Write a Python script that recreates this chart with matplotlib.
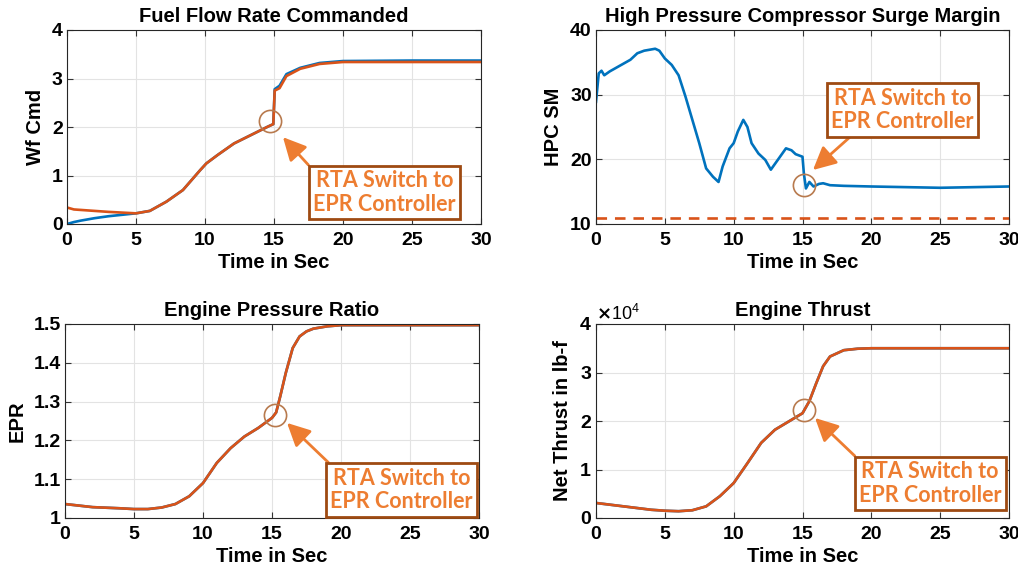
import numpy as np
import matplotlib
matplotlib.use("Agg")
import matplotlib.pyplot as plt
from matplotlib.ticker import ScalarFormatter

plt.rcParams['font.family'] = ['Liberation Sans', 'DejaVu Sans']
plt.rcParams['font.weight'] = 'bold'
plt.rcParams['axes.titleweight'] = 'bold'
plt.rcParams['axes.labelweight'] = 'bold'

BLUE = '#0072BD'
ORANGE = '#D95319'
NOTE = '#ED7D31'
NOTE_EDGE = '#9E4A12'
RING = '#B87A4E'

# ---- fuel flow commanded
t_wf = [0, 0.5, 1, 2, 3, 4, 5, 6, 7.2, 8.4, 9.65, 10.1, 10.9, 12.1, 13.3, 14.5, 14.95,
        15.05, 15.4, 15.9, 16.9, 18.3, 20, 25, 30]
wf_blue = [0.0, 0.04, 0.07, 0.12, 0.16, 0.19, 0.22, 0.27, 0.46, 0.70, 1.11, 1.25, 1.42, 1.66, 1.83, 2.0, 2.06,
           2.78, 2.85, 3.09, 3.22, 3.32, 3.36, 3.37, 3.37]
wf_orange = [0.34, 0.30, 0.29, 0.27, 0.25, 0.235, 0.22, 0.27, 0.46, 0.70, 1.11, 1.25, 1.42, 1.66, 1.83, 2.0, 2.06,
             2.75, 2.80, 3.05, 3.20, 3.30, 3.34, 3.34, 3.34]

# ---- HPC surge margin
t_sm = [0, 0.2, 0.4, 0.6, 1, 2, 2.5, 3, 3.5, 4.3, 4.6, 5, 5.5, 6, 6.5, 7, 7.5, 8, 8.5, 8.9,
        9.2, 9.7, 10, 10.3, 10.7, 11, 11.3, 11.8, 12.3, 12.7, 13.2, 13.8, 14.2, 14.5, 15,
        15.1, 15.25, 15.5, 15.8, 16.2, 16.5, 17, 18, 20, 25, 30]
sm = [28.9, 33.3, 33.7, 33.0, 33.6, 34.8, 35.4, 36.4, 36.8, 37.1, 36.8, 35.6, 34.6, 33.0, 29.7,
      26.1, 22.5, 18.6, 17.3, 16.5, 18.9, 21.7, 22.5, 24.3, 26.1, 25.0, 22.5, 20.9, 19.9, 18.4,
      19.9, 21.7, 21.4, 20.8, 20.4, 17.8, 15.5, 16.5, 15.8, 16.2, 16.3, 16.0, 15.9, 15.8, 15.6, 15.8]
sm_limit = 11

# ---- engine pressure ratio
t_epr = [0, 2, 4, 5, 6, 7, 8, 9, 10, 11, 12, 13, 14, 15, 15.3, 15.6, 16, 16.5, 17, 17.5, 18, 19, 20, 30]
epr = [1.036, 1.028, 1.025, 1.023, 1.023, 1.027, 1.036, 1.056, 1.09, 1.142, 1.18, 1.21, 1.232, 1.258,
       1.272, 1.314, 1.374, 1.438, 1.468, 1.481, 1.488, 1.494, 1.497, 1.497]

# ---- thrust
t_fn = [0, 2, 4, 5, 6, 7, 8, 9, 10, 11, 12, 13, 14, 15, 15.5, 16, 16.5, 17, 18, 19, 20, 30]
fn = [3100, 2400, 1700, 1500, 1400, 1600, 2400, 4500, 7200, 11300, 15500, 18200, 19900, 21600,
      24100, 27800, 31300, 33300, 34600, 34900, 35000, 35000]

fig = plt.figure(figsize=(10.18, 5.71), dpi=100)
W, H = 1018, 571


def make_ax(x0, x1, ytop, ybot):
    return fig.add_axes([x0 / W, 1 - ybot / H, (x1 - x0) / W, (ybot - ytop) / H])


def style(ax, title, ylabel, ylim, yticks):
    ax.set_xlim(0, 30)
    ax.set_xticks([0, 5, 10, 15, 20, 25, 30])
    ax.set_ylim(*ylim)
    ax.set_yticks(yticks)
    ax.grid(True, color='#e3e3e3', lw=0.8)
    ax.set_axisbelow(True)
    ax.tick_params(direction='in', top=True, right=True, labelsize=14, length=4,
                   color='#333333')
    ax.tick_params(axis='x', pad=6)
    ax.tick_params(axis='y', pad=3)
    for s in ax.spines.values():
        s.set_color('#262626')
        s.set_linewidth(0.8)
    ax.set_title(title, fontsize=14.5, pad=6)
    ax.set_xlabel('Time in Sec', fontsize=14.5, labelpad=3)
    ax.set_ylabel(ylabel, fontsize=14.5, labelpad=5)


def note(ax, ring, tip, box, relpos):
    ax.plot(*ring, 'o', ms=16, mfc='none', mec=RING, mew=1.2, zorder=5)
    ax.annotate('RTA Switch to\nEPR Controller', xy=tip, xycoords='data',
                xytext=box, textcoords='axes fraction', ha='center', va='center',
                fontsize=15.5, family=['Lato', 'DejaVu Sans'], fontweight='bold',
                color=NOTE, linespacing=1.15,
                bbox=dict(boxstyle='square,pad=0.2', fc='white', ec=NOTE_EDGE, lw=2),
                arrowprops=dict(arrowstyle='-|>,head_length=0.9,head_width=0.45',
                                color=NOTE, lw=2, relpos=relpos, shrinkA=0, shrinkB=0),
                zorder=6)


ax1 = make_ax(67, 481, 30, 224)
ax1.plot(t_wf, wf_blue, color=BLUE, lw=1.9)
ax1.plot(t_wf, wf_orange, color=ORANGE, lw=1.9)
style(ax1, 'Fuel Flow Rate Commanded', 'Wf Cmd', (0, 4), [0, 1, 2, 3, 4])
note(ax1, (14.7, 2.12), (15.65, 1.79), (0.767, 0.162), (0.0, 1.0))

ax2 = make_ax(596, 1009, 30, 224)
ax2.plot(t_sm, sm, color=BLUE, lw=1.9)
ax2.axhline(sm_limit, color=ORANGE, lw=1.9, ls=(0, (4, 3)))
style(ax2, 'High Pressure Compressor Surge Margin', 'HPC SM', (10, 40), [10, 20, 30, 40])
note(ax2, (15.1, 16.0), (15.76, 18.35), (0.742, 0.588), (0.17, 0.0))

ax3 = make_ax(65, 479, 324, 518)
ax3.plot(t_epr, epr, color=BLUE, lw=1.9)
ax3.plot(t_epr, epr, color=ORANGE, lw=1.9)
style(ax3, 'Engine Pressure Ratio', 'EPR', (1, 1.5), [1, 1.1, 1.2, 1.3, 1.4, 1.5])
ax3.set_yticklabels(['1', '1.1', '1.2', '1.3', '1.4', '1.5'])
note(ax3, (15.2, 1.265), (16.09, 1.245), (0.813, 0.144), (0.025, 1.0))

ax4 = make_ax(596, 1009, 324, 518)
ax4.plot(t_fn, fn, color=BLUE, lw=1.9)
ax4.plot(t_fn, fn, color=ORANGE, lw=1.9)
style(ax4, 'Engine Thrust', 'Net Thrust in lb-f', (0, 40000), [0, 10000, 20000, 30000, 40000])
fmt = ScalarFormatter(useMathText=True)
fmt.set_powerlimits((0, 0))
ax4.yaxis.set_major_formatter(fmt)
ax4.yaxis.get_offset_text().set_fontsize(13)
ax4.yaxis.get_offset_text().set_fontweight('normal')
note(ax4, (15.1, 22270), (15.91, 20620), (0.809, 0.178), (0.01, 1.0))

fig.savefig('out.png', dpi=100)
